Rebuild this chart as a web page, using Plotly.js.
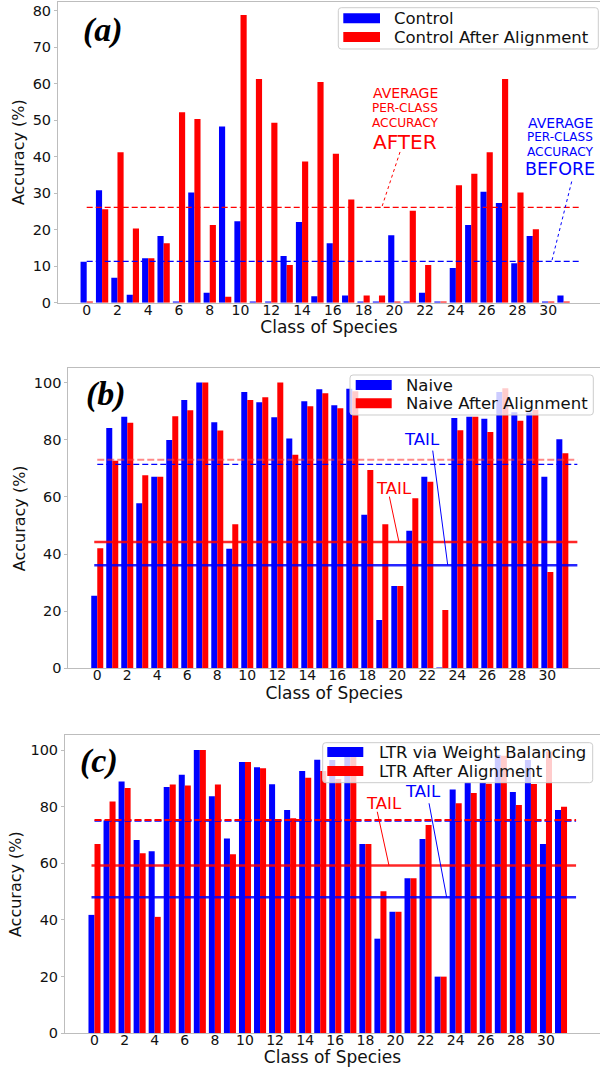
<!DOCTYPE html>
<html><head><meta charset="utf-8">
<script src="https://cdn.plot.ly/plotly-3.0.1.min.js"></script>
<style>html,body{margin:0;padding:0;background:#fff;overflow:hidden}#chart{width:600px;height:1067px}</style>
</head><body><div id="chart"></div>
<script>
// ---------- data ----------
const classes = [0,1,2,3,4,5,6,7,8,9,10,11,12,13,14,15,16,17,18,19,20,21,22,23,24,25,26,27,28,29,30,31];
const tickVals = [0,2,4,6,8,10,12,14,16,18,20,22,24,26,28,30];

// (a)
const control = [11.2,30.8,6.85,2.2,12.2,18.3,0.3,30.2,2.7,48.3,22.3,0.3,0.3,12.8,22.1,1.8,16.3,2.0,0.3,0.3,18.5,0.3,2.7,0.3,9.5,21.3,30.4,27.3,10.8,18.3,0.3,2.0];
const controlAfter = [0.3,25.6,41.2,20.3,12.2,16.3,52.2,50.3,21.3,1.6,78.8,61.3,49.3,10.3,38.7,60.5,40.8,28.3,2.0,2.0,0.3,25.2,10.3,0.3,32.2,35.3,41.2,61.3,30.2,20.1,0.3,0.3];
const avgControl = 11.3, avgControlAfter = 26.1;

// (b)
const naive = [25.4,84.1,88.0,57.8,67.0,79.9,93.9,100,86.1,41.8,96.7,93.1,87.9,80.4,93.5,97.7,92.1,97.8,53.7,16.9,28.8,48.1,67.0,0.3,87.6,88.0,87.3,96.7,89.6,89.5,67.0,80.2];
const naiveAfter = [42.0,72.6,85.9,67.6,67.0,88.2,90.3,100,83.2,50.4,93.9,94.9,100,74.7,91.7,96.3,91.0,97.0,69.4,50.4,28.8,59.5,65.3,20.4,83.3,88.0,82.7,98.0,86.6,90.5,33.7,75.3];
const avgNaive = 71.4, avgNaiveAfter = 73.0, tailNaive = 36.1, tailNaiveAfter = 44.2;

// (c)
const ltr = [41.8,75.1,88.9,68.2,64.3,86.9,91.3,100,83.7,68.8,95.8,93.9,87.9,78.8,92.6,96.6,96.5,98.0,66.8,33.4,42.9,54.7,68.6,20.0,86.1,88.6,88.4,98.2,85.2,96.5,66.8,78.8];
const ltrAfter = [66.8,81.8,86.6,63.6,41.1,87.8,87.5,100,87.8,63.2,95.8,93.6,75.3,75.9,90.2,92.6,89.8,98.0,66.8,50.1,42.9,54.7,73.5,20.0,81.2,84.8,88.1,98.0,80.6,88.0,99.5,80.0];
const avgLtr = 74.9, avgLtrAfter = 75.3, tailLtr = 48.0, tailLtrAfter = 59.2;

const seriesNames = {
  a: ['Control', 'Control After Alignment'],
  b: ['Naive', 'Naive After Alignment'],
  c: ['LTR via Weight Balancing', 'LTR After Alignment']
};
const avgSpan = [0, 32];     // extent of the average lines (class units)
const tailSpan = [-0.2, 32]; // extent of the tail lines

// ---------- helpers ----------
const W = 600, H = 1067;
const FONT = 'DejaVu Sans, Verdana, sans-serif';
const BLUE = '#0000ff', RED = '#ff0000';
const px = x => x / W, py = y => 1 - y / H;

function bars(xa, ya, vals, name, color) {
  return {type: 'bar', x: classes, y: vals, name: name, xaxis: xa, yaxis: ya,
    marker: {color: color, line: {width: 0}}, showlegend: false, hoverinfo: 'x+y'};
}
function hline(xa, ya, span, v, color, width, dash) {
  return {type: 'scatter', mode: 'lines', x: span, y: [v, v], xaxis: xa, yaxis: ya,
    line: {color: color, width: width, dash: dash}, showlegend: false, hoverinfo: 'skip'};
}

const traces = [
  bars('x', 'y', control, seriesNames.a[0], BLUE),
  bars('x', 'y', controlAfter, seriesNames.a[1], RED),
  hline('x', 'y', avgSpan, avgControlAfter, '#ff0000', 1.3, '6px,3px'),
  hline('x', 'y', avgSpan, avgControl, '#0000ff', 1.3, '6px,3px'),

  bars('x2', 'y2', naive, seriesNames.b[0], BLUE),
  bars('x2', 'y2', naiveAfter, seriesNames.b[1], RED),
  hline('x2', 'y2', avgSpan, avgNaiveAfter, 'rgba(255,60,60,0.6)', 2, '7px,3px'),
  hline('x2', 'y2', avgSpan, avgNaive, BLUE, 1.2, '6px,3px'),
  hline('x2', 'y2', tailSpan, tailNaiveAfter, 'rgba(255,0,0,0.85)', 2.5, 'solid'),
  hline('x2', 'y2', tailSpan, tailNaive, 'rgba(0,0,255,0.85)', 2.5, 'solid'),

  bars('x3', 'y3', ltr, seriesNames.c[0], BLUE),
  bars('x3', 'y3', ltrAfter, seriesNames.c[1], RED),
  hline('x3', 'y3', avgSpan, avgLtr, BLUE, 1.5, '7px,3px'),
  hline('x3', 'y3', avgSpan, avgLtrAfter, RED, 2, '7px,3px'),
  hline('x3', 'y3', tailSpan, tailLtrAfter, 'rgba(255,0,0,0.85)', 2.5, 'solid'),
  hline('x3', 'y3', tailSpan, tailLtr, 'rgba(0,0,255,0.85)', 2.5, 'solid')
];

function xax(domain, range, anchor) {
  return {domain: domain, range: range, anchor: anchor, tickvals: tickVals,
    showline: true, mirror: true, linecolor: '#bdbdbd', linewidth: 1,
    ticks: '', ticklabelposition: 'outside', ticklabelstandoff: -6,
    showgrid: false, zeroline: false,
    tickfont: {family: FONT, size: 14, color: '#111'},
    title: {text: 'Class of Species', font: {family: FONT, size: 17, color: '#111'}, standoff: 0}};
}
function yax(domain, range, anchor, dtick) {
  return {domain: domain, range: range, anchor: anchor, dtick: dtick, tick0: 0,
    showline: true, linecolor: '#bdbdbd', linewidth: 1,
    ticks: 'outside', ticklen: 3, tickcolor: '#bdbdbd',
    showgrid: false, zeroline: false,
    tickfont: {family: FONT, size: 14.5, color: '#111'},
    title: {text: 'Accuracy (%)', font: {family: FONT, size: 16, color: '#111'}, standoff: 4}};
}

function rrect(x0, y0, x1, y1, r) {
  const p = (x, y) => px(x).toFixed(5) + ',' + py(y).toFixed(5);
  return 'M' + p(x0 + r, y0) + ' L' + p(x1 - r, y0) + ' Q' + p(x1, y0) + ' ' + p(x1, y0 + r) +
    ' L' + p(x1, y1 - r) + ' Q' + p(x1, y1) + ' ' + p(x1 - r, y1) +
    ' L' + p(x0 + r, y1) + ' Q' + p(x0, y1) + ' ' + p(x0, y1 - r) +
    ' L' + p(x0, y0 + r) + ' Q' + p(x0, y0) + ' ' + p(x0 + r, y0) + ' Z';
}

const shapes = [];
const annotations = [];

function legend(box, patchX, rows, textX, names) {
  shapes.push({type: 'path', xref: 'paper', yref: 'paper', layer: 'above',
    path: rrect(box[0], box[1], box[2], box[3], 3),
    fillcolor: 'rgba(255,255,255,0.8)', line: {color: '#cccccc', width: 1}});
  [BLUE, RED].forEach((c, i) => {
    shapes.push({type: 'rect', xref: 'paper', yref: 'paper', layer: 'above',
      x0: px(patchX[0]), x1: px(patchX[1]), y0: py(rows[i] + 5), y1: py(rows[i] - 5),
      fillcolor: c, line: {width: 0}});
    annotations.push({xref: 'paper', yref: 'paper', x: px(textX), y: py(rows[i]),
      xanchor: 'left', yanchor: 'middle', showarrow: false, text: names[i],
      font: {family: FONT, size: 16.5, color: '#111'}});
  });
}
legend([338.3, 7.7, 598.3, 49], [343.3, 380], [18.3, 37], 391.7, seriesNames.a);
legend([350, 375, 593.3, 415], [355.7, 391.7], [385, 403.3], 404.3, seriesNames.b);
legend([322.7, 742.7, 592.7, 782.7], [327.3, 363.3], [752, 771], 376.7, seriesNames.c);

// panel letters
[['(a)', 103, 30], ['(b)', 106, 394], ['(c)', 99, 761]].forEach(l => {
  annotations.push({xref: 'paper', yref: 'paper', x: px(l[1]), y: py(l[2]),
    xanchor: 'center', yanchor: 'middle', showarrow: false, text: '<b><i>' + l[0] + '</i></b>',
    font: {family: 'Liberation Serif, Times New Roman, serif', size: 34, color: '#000'}});
});

function txt(xa, ya, x, y, text, size, color) {
  annotations.push({xref: xa, yref: ya, x: x, y: y, xanchor: 'center', yanchor: 'middle',
    showarrow: false, text: text, font: {family: FONT, size: size, color: color}});
}
function seg(xa, ya, x0, y0, x1, y1, color, dash) {
  shapes.push({type: 'line', xref: xa, yref: ya, layer: 'above', x0: x0, y0: y0, x1: x1, y1: y1,
    line: {color: color, width: 1, dash: dash}});
}

// (a) notes
txt('x', 'y', 20.72, 57.4, 'AVERAGE', 14, RED);
txt('x', 'y', 20.72, 53.3, 'PER-CLASS', 12, RED);
txt('x', 'y', 20.72, 49.3, 'ACCURACY', 12.2, RED);
txt('x', 'y', 20.72, 44.1, 'AFTER', 20, RED);
seg('x', 'y', 20.37, 41.3, 19.18, avgControlAfter, RED, 'dot');
txt('x', 'y', 30.79, 49.3, 'AVERAGE', 14, BLUE);
txt('x', 'y', 30.79, 45.3, 'PER-CLASS', 12, BLUE);
txt('x', 'y', 30.79, 41.4, 'ACCURACY', 12.2, BLUE);
txt('x', 'y', 30.79, 36.6, 'BEFORE', 17.5, BLUE);
seg('x', 'y', 31.53, 33.2, 30.23, avgControl, BLUE, 'dot');

// (b) notes
txt('x2', 'y2', 21.67, 80.0, 'TAIL', 16.5, BLUE);
seg('x2', 'y2', 22.36, 76.2, 23.36, tailNaive, BLUE, 'solid');
txt('x2', 'y2', 19.78, 62.8, 'TAIL', 16.5, RED);
seg('x2', 'y2', 19.47, 60.1, 20.11, tailNaiveAfter, RED, 'solid');

// (c) notes
txt('x3', 'y3', 21.81, 85.3, 'TAIL', 16.5, BLUE);
seg('x3', 'y3', 22.23, 81.2, 23.40, tailLtr, BLUE, 'solid');
txt('x3', 'y3', 19.24, 81.2, 'TAIL', 16.5, RED);
seg('x3', 'y3', 18.79, 78.2, 19.57, tailLtrAfter, RED, 'solid');

const layout = {
  width: W, height: H, margin: {l: 0, r: 0, t: 0, b: 0},
  paper_bgcolor: '#fff', plot_bgcolor: '#fff',
  barmode: 'group', bargap: 0.2, bargroupgap: 0,
  showlegend: false,
  xaxis: xax([px(58), 1], [-1.866, 33.37], 'y'),
  yaxis: yax([py(302.7), py(1.7)], [0, 82.47], 'x', 10),
  xaxis2: xax([px(68.3), 1], [-1.93, 33.51], 'y2'),
  yaxis2: yax([py(668.3), py(368.3)], [0, 105], 'x2', 20),
  xaxis3: xax([px(65), 1], [-1.96, 33.59], 'y3'),
  yaxis3: yax([py(1033.3), py(735)], [0, 105.3], 'x3', 20),
  shapes: shapes, annotations: annotations
};

Plotly.newPlot('chart', traces, layout, {staticPlot: true, displayModeBar: false});
</script>
</body></html>
